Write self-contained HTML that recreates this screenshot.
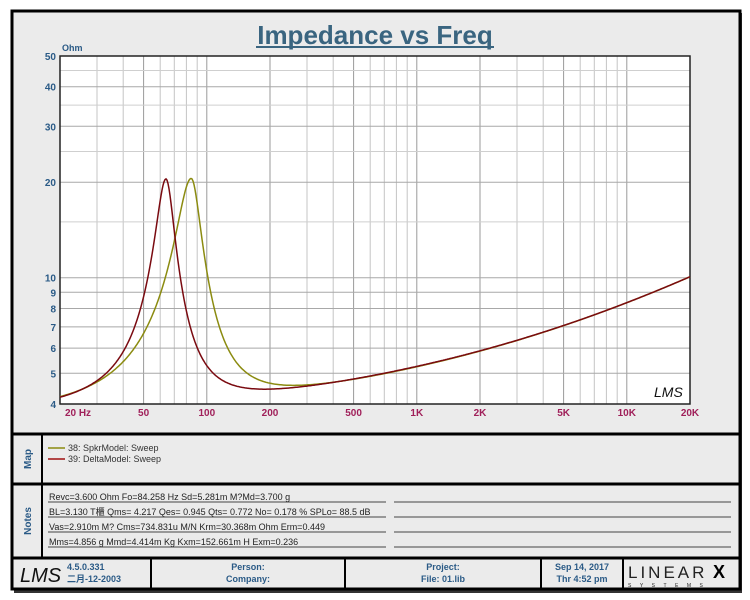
<!DOCTYPE html>
<html><head><meta charset="utf-8"><style>
html,body{margin:0;padding:0;background:#fff;width:750px;height:600px;overflow:hidden}
svg text{font-family:"Liberation Sans","Noto Sans CJK SC",sans-serif}
</style></head><body>
<svg id="s" width="750" height="600" xmlns="http://www.w3.org/2000/svg">
<rect x="0" y="0" width="750" height="600" fill="#fff"/>
<rect x="14" y="13" width="728" height="580" fill="#333"/>
<rect x="12" y="11" width="728" height="578" fill="#ebebeb" stroke="#000" stroke-width="3"/>
<text x="375" y="44" text-anchor="middle" font-size="26" font-weight="bold" fill="#3a6580">Impedance vs Freq</text>
<line x1="256" y1="47" x2="494" y2="47" stroke="#3a6580" stroke-width="2"/>
<rect x="60" y="56" width="630" height="348" fill="#fff"/>
<g id="grid"></g>
<rect x="60" y="56" width="630" height="348" fill="none" stroke="#222" stroke-width="1.5"/>
<text x="62" y="51" font-size="9" font-weight="bold" fill="#2a5a86">Ohm</text>
<g id="ylab" font-size="10" font-weight="bold" fill="#2a5a86" text-anchor="end"></g>
<g id="xlab" font-size="10" font-weight="bold" fill="#a0205a" text-anchor="middle"></g>
<path id="py" fill="none" stroke="#8b8b10" stroke-width="1.5"/>
<path id="pr" fill="none" stroke="#7a0a10" stroke-width="1.5"/>
<text x="654" y="397" font-size="14" font-style="italic" fill="#111" font-family="Liberation Serif,serif">LMS</text>
<line x1="12" y1="434" x2="740" y2="434" stroke="#000" stroke-width="3"/>
<line x1="12" y1="484" x2="740" y2="484" stroke="#000" stroke-width="3"/>
<line x1="12" y1="558" x2="740" y2="558" stroke="#000" stroke-width="3"/>
<line x1="42" y1="434" x2="42" y2="558" stroke="#000" stroke-width="2"/>
<text transform="translate(31,459) rotate(-90)" text-anchor="middle" font-size="10" font-weight="bold" fill="#2a5a86">Map</text>
<text transform="translate(31,521) rotate(-90)" text-anchor="middle" font-size="10" font-weight="bold" fill="#2a5a86">Notes</text>
<line x1="48" y1="448" x2="65" y2="448" stroke="#8b8b10" stroke-width="1.5"/>
<line x1="48" y1="459" x2="65" y2="459" stroke="#a01010" stroke-width="1.5"/>
<text x="68" y="451" font-size="9" fill="#333">38: SpkrModel: Sweep</text>
<text x="68" y="462" font-size="9" fill="#333">39: DeltaModel: Sweep</text>
<g font-size="9" fill="#222">
<text x="49" y="500">Revc=3.600 Ohm  Fo=84.258 Hz  Sd=5.281m M?Md=3.700 g</text>
<text x="49" y="515">BL=3.130 T櫃  Qms= 4.217  Qes= 0.945  Qts= 0.772  No= 0.178 %  SPLo= 88.5 dB</text>
<text x="49" y="530">Vas=2.910m M? Cms=734.831u M/N  Krm=30.368m Ohm  Erm=0.449</text>
<text x="49" y="545">Mms=4.856 g  Mmd=4.414m Kg  Kxm=152.661m H  Exm=0.236</text>
</g>
<g stroke="#444" stroke-width="1">
<line x1="48" y1="502" x2="386" y2="502"/><line x1="394" y1="502" x2="731" y2="502"/>
<line x1="48" y1="517" x2="386" y2="517"/><line x1="394" y1="517" x2="731" y2="517"/>
<line x1="48" y1="532" x2="386" y2="532"/><line x1="394" y1="532" x2="731" y2="532"/>
<line x1="48" y1="547" x2="386" y2="547"/><line x1="394" y1="547" x2="731" y2="547"/>
</g>
<g stroke="#000" stroke-width="2">
<line x1="151" y1="558" x2="151" y2="589"/><line x1="345" y1="558" x2="345" y2="589"/>
<line x1="541" y1="558" x2="541" y2="589"/><line x1="623" y1="558" x2="623" y2="589"/>
</g>
<text x="20" y="582" font-size="20" font-style="italic" fill="#111" font-family="Liberation Serif,serif">LMS</text>
<g font-size="9" font-weight="bold" fill="#2a5a86">
<text x="67" y="570">4.5.0.331</text>
<text x="67" y="582">二月-12-2003</text>
<text x="248" y="570" text-anchor="middle">Person:</text>
<text x="248" y="582" text-anchor="middle">Company:</text>
<text x="443" y="570" text-anchor="middle">Project:</text>
<text x="443" y="582" text-anchor="middle">File: 01.lib</text>
<text x="582" y="570" text-anchor="middle">Sep 14, 2017</text>
<text x="582" y="582" text-anchor="middle">Thr  4:52 pm</text>
</g>
<text x="628" y="578" font-size="17" fill="#222" font-family="Liberation Serif,serif" letter-spacing="3">LINEAR</text>
<text x="713" y="578" font-size="18" font-weight="bold" fill="#000">X</text>
<text x="628" y="587" font-size="5" fill="#222" letter-spacing="8.5">SYSTEMS</text>
</svg>
<script>
var L=60,R=690,T=56,B=404;
function X(f){return L+210*Math.log10(f/20);}
function Y(z){return B-317.3*Math.log10(z/4);}
var g='';
var fs=[];for(var d=10;d<=10000;d*=10)for(var k=1;k<10;k++){var f=k*d;if(f>20&&f<20000)fs.push(f);}
fs.forEach(function(f){var x=X(f).toFixed(1);var c=(String(f)[0]=='1'||String(f)[0]=='2'||String(f)[0]=='5')?'#9a9a9a':'#c4c4c4';g+='<line x1="'+x+'" y1="'+T+'" x2="'+x+'" y2="'+B+'" stroke="'+c+'" stroke-width="1"/>';});
[5,6,7,8,9,10,15,20,25,30,35,40,45].forEach(function(z){var y=Y(z).toFixed(1);var c=([10,20,30,40,5,6,7,8,9].indexOf(z)>=0)?'#a8a8a8':'#cfcfcf';g+='<line x1="'+L+'" y1="'+y+'" x2="'+R+'" y2="'+y+'" stroke="'+c+'"/>';});
document.getElementById('grid').innerHTML=g;
var yl='';[4,5,6,7,8,9,10,20,30,40,50].forEach(function(z){yl+='<text x="56" y="'+(Y(z)+4).toFixed(1)+'">'+z+'</text>';});
document.getElementById('ylab').innerHTML=yl;
var xl='';[[20,'20  Hz',78],[50,'50'],[100,'100'],[200,'200'],[500,'500'],[1000,'1K'],[2000,'2K'],[5000,'5K'],[10000,'10K'],[20000,'20K']].forEach(function(a){var x=a[2]||X(a[0]);xl+='<text x="'+x.toFixed(1)+'" y="416">'+a[1]+'</text>';});
document.getElementById('xlab').innerHTML=xl;
function curve(f0,ql,qh){var n=0.423,K=1.97/Math.pow(1000,n),ph=n*Math.PI/2,Res=16.4,d='';
for(var i=0;i<=630;i++){var f=20*Math.pow(10,i/210);var Q=f<f0?ql:qh;var a=Q*(f/f0-f0/f);var den=1+a*a;
var re=3.6+Res/den+K*Math.pow(f,n)*Math.cos(ph);var im=-Res*a/den+K*Math.pow(f,n)*Math.sin(ph);
var z=Math.sqrt(re*re+im*im);d+=(i?'L':'M')+X(f).toFixed(1)+','+Y(z).toFixed(1);}return d;}
document.getElementById('py').setAttribute('d',curve(84.5,3.5,5.2));
document.getElementById('pr').setAttribute('d',curve(64,5,6));
</script>
</body></html>
